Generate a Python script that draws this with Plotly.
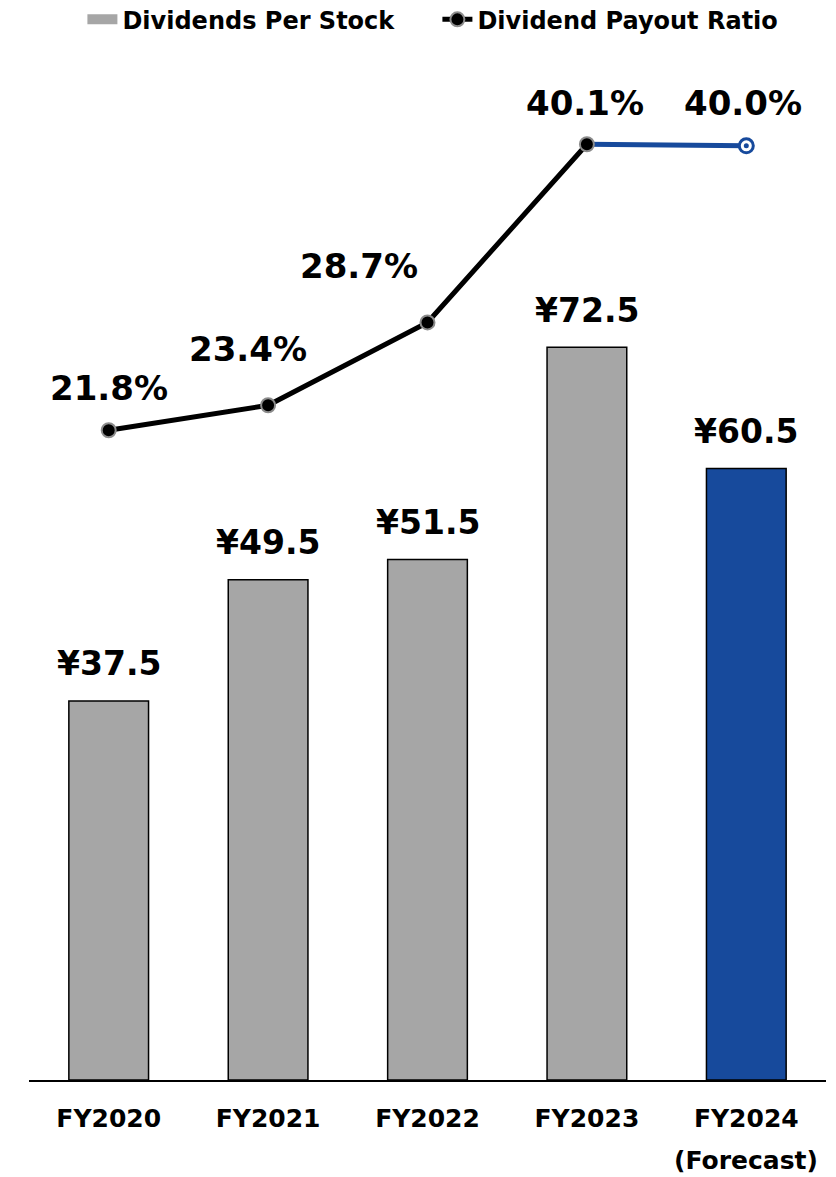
import plotly.graph_objects as go

categories = ["FY2020", "FY2021", "FY2022", "FY2023", "FY2024"]
dividends = [37.5, 49.5, 51.5, 72.5, 60.5]
payout = [21.8, 23.4, 28.7, 40.1, 40.0]
div_labels = ["¥37.5", "¥49.5", "¥51.5", "¥72.5", "¥60.5"]
payout_labels = ["21.8%", "23.4%", "28.7%", "40.1%", "40.0%"]
forecast_note = "(Forecast)"

FONT = "DejaVu Sans"
GRAY = "#A6A6A6"
BLUE = "#174A9C"
bar_colors = [GRAY, GRAY, GRAY, GRAY, BLUE]
pct_xshift = [0, -20, -69, -2, -3]
pct_yshift = [42, 56, 56, 41, 43]

fig = go.Figure()
fig.add_trace(go.Bar(
    x=categories, y=dividends, name="Dividends Per Stock",
    marker=dict(color=bar_colors, line=dict(color="black", width=1.5)),
    width=0.5, yaxis="y", showlegend=False,
))
# legend entry for the bars (wide gray box like the reference)
fig.add_trace(go.Scatter(
    x=[None], y=[None], mode="lines", name="Dividends Per Stock",
    line=dict(color=GRAY, width=16), yaxis="y",
))
# forecast segment (blue)
fig.add_trace(go.Scatter(
    x=categories[3:], y=payout[3:], mode="lines", yaxis="y2",
    line=dict(color=BLUE, width=5), showlegend=False, hoverinfo="skip",
))
fig.add_trace(go.Scatter(
    x=categories[4:], y=payout[4:], mode="markers", yaxis="y2",
    marker=dict(color="white", size=14, line=dict(color=BLUE, width=3)),
    showlegend=False, hoverinfo="skip",
))
fig.add_trace(go.Scatter(
    x=categories[4:], y=payout[4:], mode="markers", yaxis="y2",
    marker=dict(color=BLUE, size=5), showlegend=False, hoverinfo="skip",
))
fig.add_trace(go.Scatter(
    x=categories[:4], y=payout[:4], mode="lines+markers", yaxis="y2",
    name="Dividend Payout Ratio",
    line=dict(color="black", width=5),
    marker=dict(color="black", size=14, line=dict(color="#8C8C8C", width=2)),
))

annotations = []
for c, v, t in zip(categories, dividends, div_labels):
    annotations.append(dict(x=c, y=v, xref="x", yref="y", text=t, showarrow=False,
                            yanchor="middle", yshift=37,
                            font=dict(family=FONT, size=33, color="black", weight="bold")))
for c, v, t, dx, dy in zip(categories, payout, payout_labels, pct_xshift, pct_yshift):
    annotations.append(dict(x=c, y=v, xref="x", yref="y2", text=t, showarrow=False,
                            yanchor="middle", yshift=dy, xshift=dx,
                            font=dict(family=FONT, size=34, color="black", weight="bold")))
annotations.append(dict(x=categories[4], y=0, xref="x", yref="y", text=forecast_note,
                        showarrow=False, yanchor="middle", yshift=-80,
                        font=dict(family=FONT, size=25, color="black", weight="bold")))

fig.update_layout(
    width=836, height=1177,
    margin=dict(l=21, r=18, t=32, b=105, autoexpand=False),
    plot_bgcolor="white", paper_bgcolor="white",
    bargap=0.5,
    font=dict(family=FONT, color="black"),
    xaxis=dict(showline=True, linecolor="black", linewidth=2, ticks="",
               tickfont=dict(family=FONT, size=25, color="black", weight="bold"),
               ticklabelstandoff=15, showgrid=False, fixedrange=True),
    yaxis=dict(range=[0, 102.9], visible=False, showgrid=False),
    yaxis2=dict(range=[-19.77, 46.77], overlaying="y", visible=False, showgrid=False),
    legend=dict(orientation="h", xref="container", yref="container",
                x=0.089, xanchor="left", y=0.990, yanchor="middle",
                font=dict(family=FONT, size=24, color="black", weight="bold"),
                entrywidth=310, entrywidthmode="pixels", traceorder="normal"),
    annotations=annotations,
    showlegend=True,
)

fig.write_html("out.html")
